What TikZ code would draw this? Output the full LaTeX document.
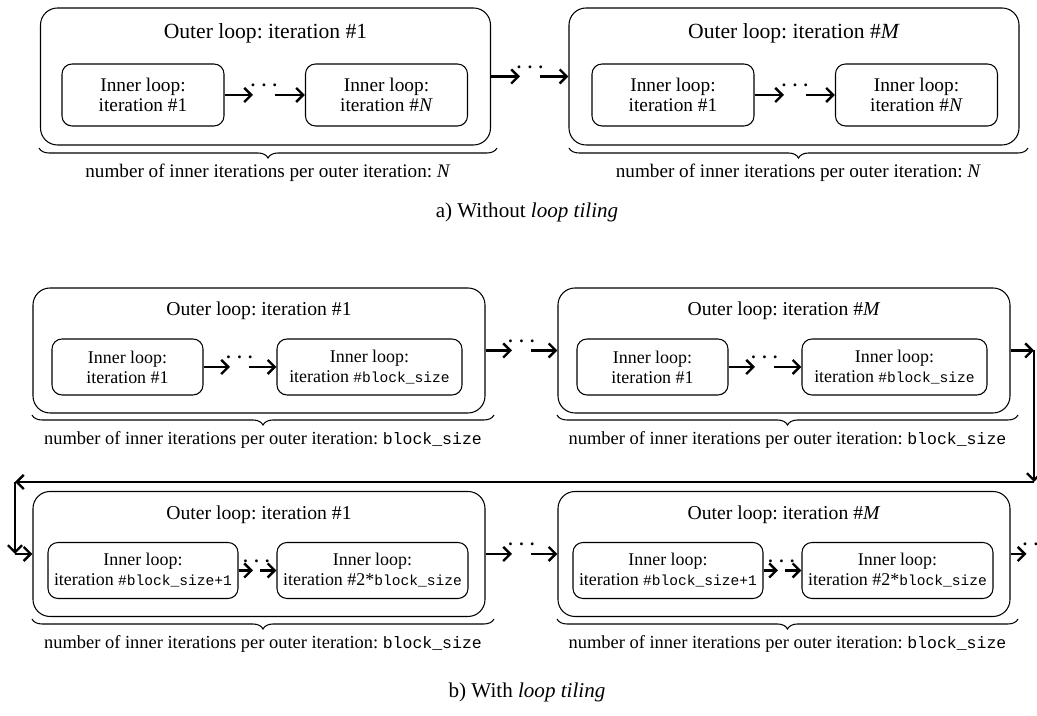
\documentclass[tikz,border=0pt]{standalone}
\usepackage{fontspec}
\setmainfont{Liberation Serif}
\setmonofont{Liberation Mono}
\frenchspacing
\usetikzlibrary{arrows.meta,calc,decorations.pathreplacing}
\newcommand{\gapdots}{\textbf{.\hspace{0.13cm}.\hspace{0.13cm}.}}
\newcommand{\ttin}{\fontsize{8.3}{10}\selectfont\ttfamily}
\newcommand{\ttbr}{\fontsize{9.4}{11}\selectfont\ttfamily}
\tikzstyle{loopout}=[draw, line width=0.6pt, rounded corners=0.34cm, inner sep=0]
\tikzstyle{loopin}=[draw, line width=0.6pt, rounded corners=0.2cm, inner sep=0, align=center]
\tikzstyle{ina}=[loopin, minimum width=3.24cm, minimum height=1.24cm, font=\fontsize{11}{11.4}\selectfont]
\tikzstyle{inb}=[loopin, minimum height=1.12cm, font=\fontsize{10.2}{11.4}\selectfont]
\tikzstyle{titlea}=[font=\fontsize{12.3}{14}\selectfont]
\tikzstyle{titleb}=[font=\fontsize{11.2}{13}\selectfont]
\tikzstyle{counta}=[font=\fontsize{10.9}{12}\selectfont]
\tikzstyle{countb}=[font=\fontsize{10.5}{12}\selectfont]
\tikzstyle{dotgap}=[inner sep=0, outer sep=0, label={[inner sep=0, label distance=0.14cm]above:\gapdots}]
\tikzstyle{flow}=[-{Straight Barb[length=4pt,width=8pt]}, line width=1.4pt]
\tikzstyle{countbrace}=[decorate, decoration={brace, mirror, amplitude=0.2cm}, line width=0.6pt]

\begin{document}
\begin{tikzpicture}[]
\useasboundingbox (0,0) rectangle (20.74,14.32);

% a) without loop tiling
\node (A1) at (5.31,12.79) [loopout, minimum width=9cm, minimum height=2.74cm] {};
\node (A2) at (15.88,12.79) [loopout, minimum width=9cm, minimum height=2.74cm] {};
\node (tA1) at (5.31,13.66) [titlea] {Outer loop: iteration \#1};
\node (tA2) at (15.88,13.66) [titlea] {Outer loop: iteration \#\textit{M}};

\node (A1a) at (2.86,12.42) [ina] {Inner loop:\\iteration \#1};
\node (A1b) at (7.73,12.42) [ina] {Inner loop:\\iteration \#\textit{N}};
\node (A2a) at (13.46,12.42) [ina] {Inner loop:\\iteration \#1};
\node (A2b) at (18.33,12.42) [ina] {Inner loop:\\iteration \#\textit{N}};

\node (gA1) at (5.28,12.42) [dotgap, minimum width=0.44cm] {};
\node (gA2) at (15.90,12.42) [dotgap, minimum width=0.44cm] {};
\node (gA) at (10.6,12.79) [dotgap, minimum width=0.40cm] {};

\draw[flow] (A1a) -- (gA1);
\draw[flow] (gA1) -- (A1b);
\draw[flow] (A2a) -- (gA2);
\draw[flow] (gA2) -- (A2b);
\draw[flow] (A1) -- (gA);
\draw[flow] (gA) -- (A2);

\draw[countbrace] (0.78,11.36) -- (9.94,11.36);
\draw[countbrace] (11.38,11.36) -- (20.56,11.36);
\node (nA1) at (5.36,10.86) [counta] {number of inner iterations per outer iteration: \textit{N}};
\node (nA2) at (15.97,10.86) [counta] {number of inner iterations per outer iteration: \textit{N}};

\node (capA) at (10.54,10.08) [font=\fontsize{12}{14}\selectfont] {a) Without \textit{loop tiling}};

% b) with loop tiling, first block
\node (B1) at (5.18,7.31) [loopout, minimum width=9.04cm, minimum height=2.5cm] {};
\node (B2) at (15.68,7.31) [loopout, minimum width=9.04cm, minimum height=2.5cm] {};
\node (tB1) at (5.18,8.1) [titleb] {Outer loop: iteration \#1};
\node (tB2) at (15.68,8.1) [titleb] {Outer loop: iteration \#\textit{M}};

\node (B1a) at (2.55,6.98) [inb, minimum width=3.02cm] {Inner loop:\\iteration \#1};
\node (B1b) at (7.39,6.98) [inb, minimum width=3.7cm] {Inner loop:\\iteration {\ttin\#block\_size}};
\node (B2a) at (13.05,6.98) [inb, minimum width=3.02cm] {Inner loop:\\iteration \#1};
\node (B2b) at (17.89,6.98) [inb, minimum width=3.7cm] {Inner loop:\\iteration {\ttin\#block\_size}};

\node (gB1) at (4.79,6.98) [dotgap, minimum width=0.38cm] {};
\node (gB2) at (15.29,6.98) [dotgap, minimum width=0.38cm] {};
\node (gB) at (10.43,7.31) [dotgap, minimum width=0.38cm] {};

\draw[flow] (B1a) -- (gB1);
\draw[flow] (gB1) -- (B1b);
\draw[flow] (B2a) -- (gB2);
\draw[flow] (gB2) -- (B2b);
\draw[flow] (B1) -- (gB);
\draw[flow] (gB) -- (B2);

\draw[countbrace] (0.64,6.02) -- (9.88,6.02);
\draw[countbrace] (11.14,6.02) -- (20.36,6.02);
\node (nB1) at (5.26,5.52) [countb] {number of inner iterations per outer iteration: {\ttbr block\_size}};
\node (nB2) at (15.75,5.52) [countb] {number of inner iterations per outer iteration: {\ttbr block\_size}};

% wrap to the next block
\coordinate (c1) at (20.68,7.31);
\coordinate (c2) at (20.68,4.68);
\coordinate (c3) at (0.3,4.68);
\coordinate (c4) at (0.3,3.24);

% b) second block
\node (B3) at (5.18,3.24) [loopout, minimum width=9.04cm, minimum height=2.5cm] {};
\node (B4) at (15.68,3.24) [loopout, minimum width=9.04cm, minimum height=2.5cm] {};
\node (tB3) at (5.18,4.03) [titleb] {Outer loop: iteration \#1};
\node (tB4) at (15.68,4.03) [titleb] {Outer loop: iteration \#\textit{M}};

\node (B3a) at (2.86,2.91) [inb, minimum width=3.8cm] {Inner loop:\\iteration {\ttin\#block\_size+1}};
\node (B3b) at (7.45,2.91) [inb, minimum width=3.82cm] {Inner loop:\\iteration \#2*{\ttin block\_size}};
\node (B4a) at (13.36,2.91) [inb, minimum width=3.8cm] {Inner loop:\\iteration {\ttin\#block\_size+1}};
\node (B4b) at (17.95,2.91) [inb, minimum width=3.82cm] {Inner loop:\\iteration \#2*{\ttin block\_size}};

\node (gB3) at (5.13,2.91) [dotgap, minimum width=0.14cm] {};
\node (gB4) at (15.63,2.91) [dotgap, minimum width=0.14cm] {};
\node (gBB) at (10.43,3.24) [dotgap, minimum width=0.38cm] {};
\node (gEnd) at (20.72,3.24) [dotgap, minimum width=0.38cm] {};

\draw[flow] (B2) -- (c1);
\draw[flow] (c1) -- (c2);
\draw[flow] (c2) -- (c3);
\draw[flow] (c3) -- (c4);
\draw[flow] (c4) -- (B3);

\draw[flow] (B3a) -- (gB3);
\draw[flow] (gB3) -- (B3b);
\draw[flow] (B4a) -- (gB4);
\draw[flow] (gB4) -- (B4b);
\draw[flow] (B3) -- (gBB);
\draw[flow] (gBB) -- (B4);
\draw[flow] (B4) -- (gEnd);

\draw[countbrace] (0.64,1.94) -- (9.88,1.94);
\draw[countbrace] (11.14,1.94) -- (20.36,1.94);
\node (nB3) at (5.26,1.44) [countb] {number of inner iterations per outer iteration: {\ttbr block\_size}};
\node (nB4) at (15.75,1.44) [countb] {number of inner iterations per outer iteration: {\ttbr block\_size}};

\node (capB) at (10.54,0.48) [font=\fontsize{12}{14}\selectfont] {b) With \textit{loop tiling}};
\end{tikzpicture}
\end{document}
